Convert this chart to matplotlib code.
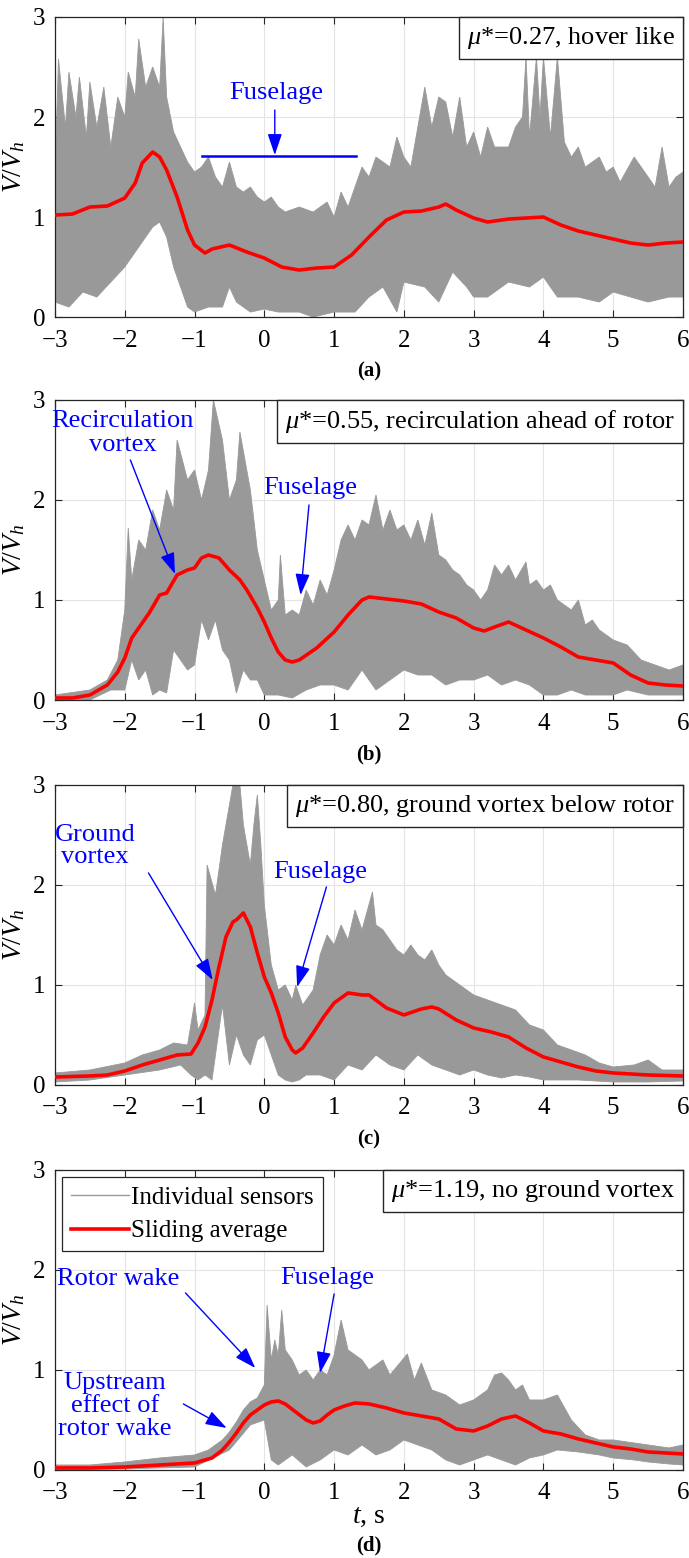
import matplotlib
matplotlib.use("Agg")
import matplotlib.pyplot as plt
from matplotlib.lines import Line2D
from matplotlib.offsetbox import AnchoredText

plt.rcParams['font.family'] = 'Liberation Serif'
plt.rcParams['mathtext.fontset'] = 'custom'
plt.rcParams['mathtext.rm'] = 'Liberation Serif'
plt.rcParams['mathtext.it'] = 'Liberation Serif:italic'
plt.rcParams['mathtext.bf'] = 'Liberation Serif:bold'

# ── data ─────────────────────────────────────────────────────────────────────
# (a) mu*=0.27 : envelope of individual sensors + sliding average
a_up_t = [-3.0, -2.95, -2.85, -2.8, -2.7, -2.65, -2.55, -2.5, -2.4, -2.3, -2.2, -2.1, -2.0, -1.95,
          -1.85, -1.8, -1.7, -1.6, -1.5, -1.45, -1.4, -1.3, -1.2, -1.1, -1.0, -0.9, -0.8, -0.7,
          -0.6, -0.5, -0.4, -0.3, -0.2, -0.1, 0.0, 0.1, 0.2, 0.3, 0.5, 0.7, 0.9, 1.0, 1.1, 1.2,
          1.3, 1.4, 1.5, 1.6, 1.8, 1.9, 2.0, 2.1, 2.2, 2.3, 2.4, 2.5, 2.6, 2.7, 2.8, 2.9, 3.0,
          3.1, 3.2, 3.3, 3.5, 3.6, 3.7, 3.75, 3.8, 3.9, 3.95, 4.0, 4.1, 4.2, 4.3, 4.4, 4.5, 4.6,
          4.8, 4.9, 5.0, 5.1, 5.3, 5.5, 5.6, 5.7, 5.8, 5.9, 6.0]
a_up_v = [1.4, 2.58, 1.9, 2.45, 2.0, 2.4, 1.8, 2.35, 1.9, 2.3, 1.7, 2.2, 2.0, 2.45,
          2.2, 2.78, 2.3, 2.5, 2.3, 3.0, 2.2, 1.85, 1.7, 1.55, 1.45, 1.5, 1.6, 1.4,
          1.3, 1.55, 1.3, 1.25, 1.3, 1.2, 1.15, 1.2, 1.1, 1.05, 1.1, 1.05, 1.15, 1.0, 1.25, 1.1,
          1.3, 1.5, 1.4, 1.6, 1.5, 1.8, 1.6, 1.5, 1.9, 2.3, 1.9, 2.2, 2.15, 1.8, 2.2, 1.7, 1.85,
          1.6, 1.9, 1.7, 1.7, 1.9, 2.0, 2.6, 1.8, 2.6, 2.0, 2.6, 1.8, 2.6, 1.75, 1.6, 1.7, 1.5,
          1.6, 1.45, 1.5, 1.35, 1.6, 1.4, 1.3, 1.7, 1.3, 1.4, 1.45]
a_lo_t = [-3.0, -2.8, -2.6, -2.4, -2.2, -2.0, -1.9, -1.8, -1.6, -1.5, -1.4, -1.3, -1.2, -1.1, -1.0,
          -0.8, -0.6, -0.5, -0.4, -0.2, 0.0, 0.2, 0.5, 0.7, 1.0, 1.3, 1.5, 1.7, 1.9, 2.0, 2.3,
          2.5, 2.7, 2.9, 3.0, 3.2, 3.5, 3.8, 4.0, 4.2, 4.5, 4.8, 5.0, 5.5, 5.8, 6.0]
a_lo_v = [0.15, 0.1, 0.25, 0.2, 0.35, 0.5, 0.6, 0.7, 0.9, 0.95, 0.8, 0.5, 0.3, 0.1, 0.05,
          0.1, 0.1, 0.3, 0.15, 0.05, 0.08, 0.05, 0.05, 0.0, 0.05, 0.05, 0.2, 0.3, 0.05, 0.35, 0.3,
          0.15, 0.45, 0.3, 0.2, 0.2, 0.35, 0.3, 0.4, 0.2, 0.2, 0.15, 0.25, 0.15, 0.2, 0.2]
a_avg_t = [-3.0, -2.75, -2.5, -2.25, -2.0, -1.85, -1.75, -1.6, -1.5, -1.4, -1.25, -1.1, -1.0, -0.85,
           -0.75, -0.5, -0.25, 0.0, 0.25, 0.5, 0.75, 1.0, 1.25, 1.5, 1.75, 2.0, 2.25, 2.5, 2.6,
           2.75, 3.0, 3.2, 3.5, 3.75, 4.0, 4.25, 4.5, 4.75, 5.0, 5.25, 5.5, 5.75, 6.0]
a_avg_v = [1.02, 1.03, 1.10, 1.11, 1.19, 1.34, 1.54, 1.65, 1.60, 1.47, 1.20, 0.87, 0.72, 0.64,
           0.68, 0.72, 0.65, 0.59, 0.50, 0.47, 0.49, 0.50, 0.62, 0.80, 0.97, 1.05, 1.06, 1.10, 1.13,
           1.07, 0.99, 0.95, 0.98, 0.99, 1.00, 0.92, 0.86, 0.82, 0.78, 0.74, 0.72, 0.74, 0.75]

# (b) mu*=0.55
b_up_t = [-3.0, -2.5, -2.25, -2.1, -2.0, -1.95, -1.9, -1.8, -1.7, -1.6, -1.5, -1.4, -1.3, -1.25,
          -1.1, -1.0, -0.9, -0.8, -0.73, -0.6, -0.5, -0.4, -0.35, -0.2, -0.1, 0.0, 0.1, 0.2, 0.23,
          0.3, 0.4, 0.5, 0.6, 0.7, 0.8, 0.9, 1.0, 1.1, 1.2, 1.3, 1.4, 1.5, 1.6, 1.7, 1.8, 1.9,
          2.0, 2.1, 2.2, 2.3, 2.4, 2.5, 2.6, 2.7, 2.8, 2.9, 3.0, 3.1, 3.2, 3.3, 3.4, 3.5, 3.6,
          3.75, 3.8, 3.9, 4.0, 4.1, 4.2, 4.3, 4.4, 4.5, 4.6, 4.7, 4.8, 5.0, 5.2, 5.4, 5.6, 5.8, 6.0]
b_up_v = [0.05, 0.1, 0.2, 0.4, 0.9, 1.72, 1.2, 1.6, 1.5, 1.9, 1.7, 2.1, 1.9, 2.6,
          2.2, 2.3, 2.0, 2.3, 3.0, 2.6, 2.0, 2.2, 2.68, 2.1, 1.5, 1.2, 0.9, 1.0, 1.45,
          0.85, 0.9, 0.85, 1.1, 0.95, 1.2, 1.05, 1.3, 1.6, 1.75, 1.6, 1.8, 1.75, 2.05, 1.7, 1.9, 1.7,
          1.75, 1.6, 1.8, 1.55, 1.87, 1.45, 1.4, 1.3, 1.25, 1.15, 1.1, 1.0, 1.1, 1.35, 1.25, 1.35, 1.2,
          1.38, 1.15, 1.2, 1.1, 1.15, 1.0, 0.95, 0.9, 1.0, 0.75, 0.8, 0.7, 0.6, 0.55, 0.4, 0.35, 0.3, 0.35]
b_lo_t = [-3.0, -2.5, -2.2, -2.0, -1.9, -1.8, -1.7, -1.6, -1.5, -1.4, -1.3, -1.2, -1.1, -1.0, -0.9,
          -0.8, -0.7, -0.6, -0.5, -0.4, -0.3, -0.2, -0.1, 0.0, 0.2, 0.4, 0.6, 0.8, 1.0, 1.2, 1.4,
          1.6, 1.8, 2.0, 2.2, 2.4, 2.6, 2.8, 3.0, 3.2, 3.4, 3.6, 3.8, 4.0, 4.2, 4.4, 4.6, 4.8,
          5.0, 5.2, 5.5, 5.8, 6.0]
b_lo_v = [0.0, 0.0, 0.1, 0.1, 0.4, 0.2, 0.3, 0.05, 0.1, 0.07, 0.5, 0.4, 0.3, 0.35, 0.8,
          0.6, 0.8, 0.5, 0.4, 0.07, 0.3, 0.2, 0.2, 0.05, 0.05, 0.02, 0.1, 0.15, 0.15, 0.1, 0.3,
          0.1, 0.2, 0.3, 0.25, 0.25, 0.15, 0.2, 0.2, 0.25, 0.15, 0.2, 0.15, 0.05, 0.05, 0.1, 0.05, 0.05,
          0.05, 0.1, 0.05, 0.05, 0.05]
b_avg_t = [-3.0, -2.75, -2.5, -2.25, -2.1, -2.0, -1.9, -1.8, -1.65, -1.5, -1.4, -1.25, -1.1, -1.0,
           -0.9, -0.8, -0.65, -0.5, -0.35, -0.25, -0.1, 0.0, 0.1, 0.2, 0.3, 0.4, 0.5, 0.75, 1.0,
           1.2, 1.4, 1.5, 2.0, 2.25, 2.5, 2.75, 3.0, 3.15, 3.3, 3.5, 3.75, 4.0, 4.25, 4.5, 4.75,
           5.0, 5.25, 5.5, 5.75, 6.0]
b_avg_v = [0.02, 0.02, 0.05, 0.15, 0.28, 0.42, 0.62, 0.72, 0.87, 1.05, 1.07, 1.25, 1.30, 1.32,
           1.42, 1.45, 1.42, 1.30, 1.20, 1.10, 0.92, 0.78, 0.62, 0.48, 0.40, 0.38, 0.40, 0.52, 0.68,
           0.85, 1.00, 1.03, 0.99, 0.96, 0.88, 0.82, 0.72, 0.69, 0.73, 0.78, 0.70, 0.62, 0.53, 0.43, 0.40,
           0.37, 0.25, 0.17, 0.15, 0.14]

# (c) mu*=0.80
c_up_t = [-3.0, -2.5, -2.0, -1.75, -1.5, -1.3, -1.1, -1.0, -0.95, -0.85, -0.82, -0.7, -0.6, -0.5,
          -0.45, -0.35, -0.3, -0.2, -0.15, -0.1, -0.05, 0.0, 0.1, 0.2, 0.3, 0.4, 0.45, 0.55, 0.7,
          0.8, 0.9, 1.0, 1.1, 1.2, 1.3, 1.4, 1.55, 1.6, 1.7, 1.8, 1.9, 2.0, 2.1, 2.2, 2.3, 2.4,
          2.5, 2.6, 2.7, 2.8, 2.9, 3.0, 3.2, 3.4, 3.6, 3.8, 4.0, 4.2, 4.4, 4.6, 4.8, 5.0, 5.3,
          5.5, 5.7, 6.0]
c_up_v = [0.12, 0.15, 0.22, 0.3, 0.35, 0.42, 0.4, 0.82, 0.55, 0.7, 2.2, 1.9, 2.4, 2.8,
          3.0, 3.0, 2.6, 2.2, 2.6, 2.9, 2.4, 1.8, 1.2, 0.95, 1.0, 0.85, 1.0, 0.8, 0.95,
          1.3, 1.5, 1.4, 1.6, 1.45, 1.75, 1.55, 1.93, 1.6, 1.55, 1.45, 1.35, 1.3, 1.4, 1.3, 1.25, 1.35,
          1.2, 1.1, 1.05, 1.0, 0.95, 0.9, 0.85, 0.8, 0.75, 0.6, 0.55, 0.4, 0.35, 0.3, 0.22, 0.18, 0.2,
          0.25, 0.15, 0.15]
c_lo_t = [-3.0, -2.5, -2.0, -1.5, -1.2, -1.05, -0.95, -0.85, -0.75, -0.7, -0.6, -0.5, -0.4, -0.3,
          -0.2, -0.1, 0.0, 0.1, 0.2, 0.3, 0.4, 0.5, 0.6, 0.8, 1.0, 1.2, 1.4, 1.6, 1.8, 2.0, 2.2,
          2.4, 2.6, 2.8, 3.0, 3.2, 3.4, 3.6, 3.8, 4.0, 4.5, 5.0, 5.5, 6.0]
c_lo_v = [0.03, 0.05, 0.1, 0.15, 0.2, 0.1, 0.05, 0.1, 0.05, 0.3, 0.8, 0.2, 0.5, 0.3,
          0.2, 0.45, 0.5, 0.3, 0.1, 0.05, 0.03, 0.05, 0.1, 0.1, 0.05, 0.2, 0.15, 0.3, 0.2, 0.15, 0.3,
          0.2, 0.15, 0.1, 0.15, 0.1, 0.07, 0.1, 0.08, 0.05, 0.05, 0.03, 0.03, 0.04]
c_avg_t = [-3.0, -2.5, -2.25, -2.0, -1.75, -1.5, -1.25, -1.05, -0.95, -0.85, -0.75, -0.65, -0.55,
           -0.45, -0.4, -0.3, -0.2, -0.1, 0.0, 0.1, 0.2, 0.3, 0.4, 0.45, 0.55, 0.7, 0.85, 1.0,
           1.2, 1.4, 1.5, 1.75, 2.0, 2.25, 2.4, 2.5, 2.75, 3.0, 3.25, 3.5, 3.75, 4.0, 4.25, 4.5,
           4.75, 5.0, 5.5, 6.0]
c_avg_v = [0.08, 0.09, 0.10, 0.14, 0.20, 0.25, 0.30, 0.31, 0.42, 0.58, 0.85, 1.18, 1.48,
           1.63, 1.65, 1.72, 1.58, 1.32, 1.08, 0.92, 0.72, 0.48, 0.35, 0.32, 0.37, 0.52, 0.68, 0.82,
           0.92, 0.90, 0.90, 0.77, 0.70, 0.76, 0.78, 0.76, 0.65, 0.57, 0.53, 0.48, 0.37, 0.28, 0.23, 0.18,
           0.14, 0.12, 0.10, 0.09]

# (d) mu*=1.19
d_up_t = [-3.0, -2.5, -2.0, -1.5, -1.0, -0.8, -0.6, -0.5, -0.4, -0.3, -0.2, -0.1, 0.0, 0.04,
          0.1, 0.15, 0.2, 0.25, 0.3, 0.4, 0.5, 0.6, 0.7, 0.8, 0.9, 1.0, 1.1, 1.2, 1.3, 1.4,
          1.5, 1.6, 1.7, 1.8, 2.05, 2.15, 2.25, 2.4, 2.6, 2.8, 3.0, 3.2, 3.3, 3.4, 3.5, 3.6,
          3.7, 3.8, 4.0, 4.2, 4.4, 4.6, 4.8, 5.0, 5.2, 5.5, 5.8, 6.0]
d_up_v = [0.05, 0.05, 0.08, 0.12, 0.15, 0.2, 0.3, 0.38, 0.48, 0.6, 0.68, 0.72, 0.85, 1.65,
          1.1, 1.3, 1.15, 1.6, 1.2, 1.1, 0.95, 1.0, 0.9, 1.0, 0.95, 1.15, 1.5, 1.2, 1.15, 1.1,
          1.0, 1.05, 1.1, 0.95, 1.16, 0.9, 1.07, 0.8, 0.75, 0.65, 0.7, 0.8, 0.95, 0.97, 0.9, 0.8,
          0.85, 0.7, 0.7, 0.75, 0.5, 0.35, 0.3, 0.3, 0.28, 0.25, 0.22, 0.25]
d_lo_t = [-3.0, -2.0, -1.0, -0.5, -0.2, 0.0, 0.1, 0.2, 0.4, 0.6, 0.8, 1.0, 1.2, 1.4, 1.6, 1.8,
          2.0, 2.2, 2.4, 2.6, 2.8, 3.0, 3.2, 3.4, 3.6, 3.8, 4.0, 4.2, 4.5, 4.8, 5.0, 5.3, 5.5,
          5.8, 6.0]
d_lo_v = [0.0, 0.01, 0.03, 0.2, 0.45, 0.5, 0.1, 0.05, 0.15, 0.03, 0.1, 0.2, 0.15, 0.25, 0.15, 0.2,
          0.3, 0.25, 0.2, 0.1, 0.05, 0.1, 0.15, 0.1, 0.05, 0.12, 0.15, 0.2, 0.18, 0.15, 0.12, 0.1, 0.08,
          0.06, 0.05]
d_avg_t = [-3.0, -2.5, -2.0, -1.5, -1.0, -0.75, -0.6, -0.5, -0.4, -0.3, -0.2, -0.1, 0.0, 0.1,
           0.2, 0.3, 0.45, 0.6, 0.7, 0.8, 0.9, 1.0, 1.15, 1.3, 1.5, 1.75, 2.0, 2.25, 2.5, 2.75,
           3.0, 3.2, 3.4, 3.6, 3.8, 4.0, 4.25, 4.5, 4.75, 5.0, 5.25, 5.5, 5.75, 6.0]
d_avg_v = [0.02, 0.02, 0.03, 0.05, 0.07, 0.12, 0.20, 0.28, 0.37, 0.47, 0.55, 0.60, 0.65, 0.68,
           0.69, 0.66, 0.58, 0.50, 0.47, 0.49, 0.55, 0.60, 0.64, 0.67, 0.66, 0.62, 0.57, 0.54, 0.51, 0.41,
           0.39, 0.44, 0.51, 0.54, 0.47, 0.39, 0.36, 0.31, 0.27, 0.23, 0.21, 0.18, 0.17, 0.16]

box_labels = [r'$\mu$*=0.27, hover like',
              r'$\mu$*=0.55, recirculation ahead of rotor',
              r'$\mu$*=0.80, ground vortex below rotor',
              r'$\mu$*=1.19, no ground vortex']
panel_letters = ['(a)', '(b)', '(c)', '(d)']
x_ticks = [-3, -2, -1, 0, 1, 2, 3, 4, 5, 6]
y_ticks = [0, 1, 2, 3]

GRAY = '#999999'
BLUE = '#0000ff'
ARROW = dict(arrowstyle='-|>,head_length=0.65,head_width=0.22', color=BLUE, lw=1.0,
             shrinkA=0, shrinkB=0, mutation_scale=20)

fig = plt.figure(figsize=(6.89, 15.58), dpi=100)
bottoms = [0.7965, 0.5507, 0.3036, 0.0565]
axes = [fig.add_axes([0.0798, b, 0.9115, 0.1926]) for b in bottoms]

series = [(a_up_t, a_up_v, a_lo_t, a_lo_v, a_avg_t, a_avg_v),
          (b_up_t, b_up_v, b_lo_t, b_lo_v, b_avg_t, b_avg_v),
          (c_up_t, c_up_v, c_lo_t, c_lo_v, c_avg_t, c_avg_v),
          (d_up_t, d_up_v, d_lo_t, d_lo_v, d_avg_t, d_avg_v)]

for ax, (ut, uv, lt, lv, at_, av), box, letter in zip(axes, series, box_labels, panel_letters):
    # sensor band: polygon along the upper envelope and back along the lower one
    ax.fill(ut + lt[::-1], uv + lv[::-1], color=GRAY, ec=GRAY, lw=0.6, zorder=2)
    ax.plot(at_, av, color='red', lw=2.6, zorder=3, solid_joinstyle='round')
    ax.set_xlim(-3, 6)
    ax.set_ylim(0, 3)
    ax.set_xticks(x_ticks)
    ax.set_yticks(y_ticks)
    ax.grid(True, color='#e4e4e4', lw=0.8)
    ax.set_axisbelow(True)
    ax.tick_params(direction='in', top=True, right=True, length=5, width=0.8,
                   labelsize=18, color='#262626')
    ax.tick_params(axis='x', pad=9)
    ax.tick_params(axis='y', pad=7)
    for s in ax.spines.values():
        s.set_color('#262626')
        s.set_linewidth(0.9)
    ax.set_ylabel('$V/V_h$', fontsize=20, labelpad=4)
    tb = AnchoredText(box, loc='upper right', prop=dict(size=19), pad=0.3, borderpad=0,
                      frameon=True)
    tb.patch.set_boxstyle('square,pad=0')
    tb.patch.set_linewidth(1.0)
    tb.patch.set_edgecolor('#262626')
    tb.set_zorder(5)
    ax.add_artist(tb)
    ly = -0.253 if letter == '(d)' else -0.183
    ax.text(0.5, ly, letter, transform=ax.transAxes, ha='center', va='center',
            fontsize=15, fontweight='bold')

# ── annotations ──────────────────────────────────────────────────────────────
ax = axes[0]
ax.plot([-0.9, 1.32], [1.61, 1.61], color=BLUE, lw=1.8, zorder=4)
ax.text(0.17, 2.24, 'Fuselage', color=BLUE, fontsize=19, ha='center', va='center')
ax.annotate('', xy=(0.15, 1.62), xytext=(0.15, 2.07), arrowprops=ARROW)

ax = axes[1]
ax.text(-2.03, 2.67, 'Recirculation\nvortex', color=BLUE, fontsize=19, ha='center',
        va='center', linespacing=1.1)
ax.annotate('', xy=(-1.28, 1.26), xytext=(-1.92, 2.4), arrowprops=ARROW)
ax.text(0.66, 2.12, 'Fuselage', color=BLUE, fontsize=19, ha='center', va='center')
ax.annotate('', xy=(0.52, 1.05), xytext=(0.64, 1.95), arrowprops=ARROW)

ax = axes[2]
ax.text(-2.43, 2.39, 'Ground\nvortex', color=BLUE, fontsize=19, ha='center', va='center',
        linespacing=1.05)
ax.annotate('', xy=(-0.74, 1.05), xytext=(-1.66, 2.12), arrowprops=ARROW)
ax.text(0.80, 2.13, 'Fuselage', color=BLUE, fontsize=19, ha='center', va='center')
ax.annotate('', xy=(0.47, 0.98), xytext=(0.89, 1.98), arrowprops=ARROW)

ax = axes[3]
ax.text(-2.1, 1.91, 'Rotor wake', color=BLUE, fontsize=19, ha='center', va='center')
ax.annotate('', xy=(-0.13, 1.02), xytext=(-1.13, 1.77), arrowprops=ARROW)
ax.text(0.9, 1.92, 'Fuselage', color=BLUE, fontsize=19, ha='center', va='center')
ax.annotate('', xy=(0.80, 0.97), xytext=(1.0, 1.76), arrowprops=ARROW)
ax.text(-2.14, 0.64, 'Upstream\neffect of\nrotor wake', color=BLUE, fontsize=19,
        ha='center', va='center', linespacing=1.05)
ax.annotate('', xy=(-0.54, 0.42), xytext=(-1.16, 0.66), arrowprops=ARROW)

handles = [Line2D([], [], color=GRAY, lw=1.0), Line2D([], [], color='red', lw=2.6)]
leg = ax.legend(handles, ['Individual sensors', 'Sliding average'], loc='upper left',
                fontsize=18, frameon=True, fancybox=False, framealpha=1,
                edgecolor='#262626', handlelength=2.3, handletextpad=0.1,
                labelspacing=0.45, borderaxespad=0.3, borderpad=0.35)
leg.get_frame().set_linewidth(0.9)
ax.set_xlabel('$t$, s', fontsize=20, labelpad=0)

fig.savefig('out.png', dpi=100)
